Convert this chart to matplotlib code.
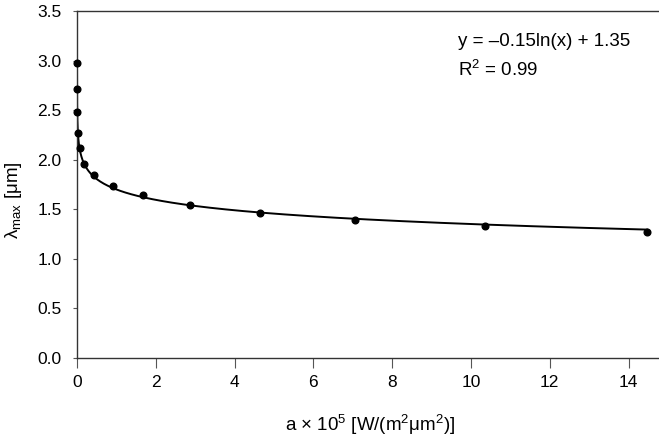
import numpy as np
import matplotlib
matplotlib.use("Agg")
import matplotlib.pyplot as plt

plt.rcParams['font.family'] = ['Liberation Sans', 'DejaVu Sans']
plt.rcParams['mathtext.fontset'] = 'custom'
plt.rcParams['mathtext.rm'] = 'Liberation Sans'
plt.rcParams['mathtext.it'] = 'Liberation Sans'
plt.rcParams['mathtext.default'] = 'regular'

# data (a x 1e5, lambda_max in um)
a_vals = [0.0002, 0.0012, 0.0057, 0.02, 0.08, 0.19, 0.44, 0.91, 1.67, 2.87, 4.64, 7.05, 10.35, 14.47]
lam_vals = [2.98, 2.71, 2.48, 2.27, 2.12, 1.96, 1.85, 1.73, 1.64, 1.545, 1.46, 1.39, 1.33, 1.27]
x_ticks = [0, 2, 4, 6, 8, 10, 12, 14]
y_ticks = [0.0, 0.5, 1.0, 1.5, 2.0, 2.5, 3.0, 3.5]

x = np.array(a_vals)
y = np.array(lam_vals)
coef = np.polyfit(np.log(x), y, 1)
xf = np.geomspace(x.min(), x.max(), 400)
yf = coef[0] * np.log(xf) + coef[1]

fig = plt.figure(figsize=(6.59, 4.38), dpi=100)
ax = fig.add_axes([77/659, 80/438, 1 - 77/659, (358-11)/438])
ax.plot(xf, yf, color='black', lw=1.4, zorder=2)
ax.plot(x, y, 'o', color='black', ms=4.8, clip_on=False, zorder=3)

ax.set_xlim(0, (659-77)/39.4)
ax.set_ylim(0, 3.5)
ax.set_xticks(x_ticks)
ax.set_yticks(y_ticks)
ax.set_yticklabels([f"{v:.1f}" for v in y_ticks])
ax.spines['right'].set_visible(False)
for s in ['left', 'bottom', 'top']:
    ax.spines[s].set_color('#333333')
    ax.spines[s].set_linewidth(1.0)
ax.tick_params(axis='both', direction='out', labelsize=12.5, colors='#555555', labelcolor='black')
ax.tick_params(axis='x', length=7, pad=5)
ax.tick_params(axis='y', length=3, pad=8)

ax.set_xlabel("a × 10$^5$ [W/(m$^2$μm$^2$)]", fontsize=13.5)
ax.set_ylabel("λ$_{max}$ [μm]", fontsize=13.5)
ax.xaxis.set_label_coords((370-77)/(659-77), -(425-358)/347)
ax.yaxis.set_label_coords(-(77-14)/(659-77), (358-200)/347)
ax.xaxis.label.set_va('center')
ax.yaxis.label.set_va('center')

fig.text(458/659, 1 - 41/438, "y = –0.15ln(x) + 1.35", fontsize=13.5, va='center', ha='left')
fig.text(458/659, 1 - 70/438, "R$^2$ = 0.99", fontsize=13.5, va='center', ha='left')

fig.savefig("out.png", dpi=100)
